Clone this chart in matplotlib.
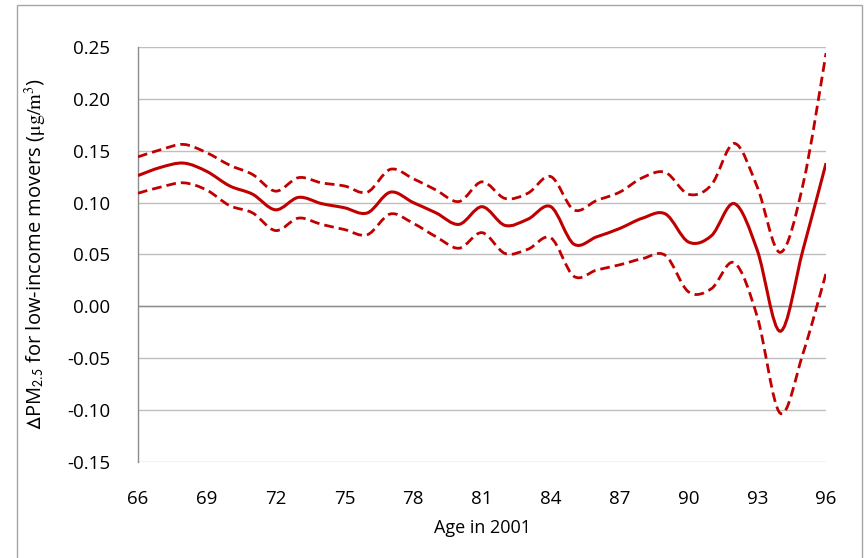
import numpy as np
import matplotlib.pyplot as plt
from matplotlib.path import Path
from matplotlib.patches import PathPatch, Rectangle

plt.rcParams['mathtext.fontset'] = 'stix'

# data, one value per age
ages = np.arange(66, 97)
estimate = [0.126, 0.134, 0.138, 0.130, 0.116, 0.108, 0.093, 0.105, 0.099, 0.095,
            0.090, 0.110, 0.100, 0.090, 0.079, 0.096, 0.078, 0.084, 0.096, 0.060,
            0.067, 0.075, 0.085, 0.089, 0.062, 0.068, 0.099, 0.054, -0.024, 0.055,
            0.138]
upper = [0.144, 0.151, 0.156, 0.148, 0.136, 0.127, 0.111, 0.124, 0.119, 0.116,
         0.110, 0.132, 0.123, 0.112, 0.101, 0.120, 0.104, 0.109, 0.125, 0.093,
         0.102, 0.110, 0.124, 0.129, 0.108, 0.117, 0.157, 0.115, 0.052, 0.118,
         0.244]
lower = [0.109, 0.115, 0.119, 0.112, 0.097, 0.090, 0.073, 0.085, 0.079, 0.074,
         0.069, 0.089, 0.080, 0.067, 0.056, 0.071, 0.051, 0.055, 0.066, 0.029,
         0.035, 0.040, 0.046, 0.049, 0.014, 0.017, 0.042, -0.010, -0.103, -0.045,
         0.032]
xticks = np.arange(66, 97, 3)
yticks = np.arange(-0.15, 0.2501, 0.05)

red = '#C00000'


def smooth_path(x, y):
    # Excel-like smoothed line: cubic bezier through every point
    x = np.asarray(x, float)
    y = np.asarray(y, float)
    pts = np.column_stack([x, y])
    verts = [pts[0]]
    codes = [Path.MOVETO]
    n = len(pts)
    for i in range(n - 1):
        p0 = pts[i - 1] if i > 0 else pts[i]
        p1 = pts[i]
        p2 = pts[i + 1]
        p3 = pts[i + 2] if i + 2 < n else pts[i + 1]
        c1 = p1 + (p2 - p0) / 6.0
        c2 = p2 - (p3 - p1) / 6.0
        verts += [c1, c2, p2]
        codes += [Path.CURVE4] * 3
    return Path(verts, codes)


fig = plt.figure(figsize=(8.65, 5.58), dpi=100)
ax = fig.add_axes([0.1595, 0.172, 0.7955, 0.744])

for v in yticks:
    ax.axhline(v, color='#BFBFBF', lw=1.0, zorder=1)
ax.axhline(0, color='#8C8C8C', lw=1.0, zorder=1)

ax.add_patch(PathPatch(smooth_path(ages, upper), fill=False, edgecolor=red,
                       lw=2.0, linestyle=(0, (3.5, 1.8)), zorder=3))
ax.add_patch(PathPatch(smooth_path(ages, lower), fill=False, edgecolor=red,
                       lw=2.0, linestyle=(0, (3.5, 1.8)), zorder=3))
ax.add_patch(PathPatch(smooth_path(ages, estimate), fill=False, edgecolor=red,
                       lw=2.2, zorder=4))

ax.set_xlim(66, 96)
ax.set_ylim(-0.15, 0.25)
ax.set_xticks(xticks)
ax.set_yticks(yticks)
ax.set_yticklabels([f'{v:.2f}' for v in yticks])
ax.tick_params(length=0, labelsize=13.5)
ax.tick_params(axis='y', pad=20)
ax.tick_params(axis='x', pad=20)
for lab in ax.get_xticklabels() + ax.get_yticklabels():
    lab.set_fontfamily('Open Sans')

for s in ['top', 'right', 'bottom']:
    ax.spines[s].set_visible(False)
ax.spines['left'].set_color('#8C8C8C')
ax.spines['left'].set_linewidth(1.0)

ax.set_xlabel('Age in 2001', fontsize=13, fontfamily='Open Sans', labelpad=8)
ax.set_ylabel(r'$\mathsf{\Delta}$PM$_{\mathsf{2.5}}$ for low-income movers ($\mathrm{\mu g/m^3}$)',
              fontsize=14.5, fontfamily='Open Sans', labelpad=13)

fig.patches.append(Rectangle((17 / 865, -0.05), (862 - 17) / 865, 1 - 5 / 558 + 0.05,
                             transform=fig.transFigure, fill=False,
                             edgecolor='#A6A6A6', lw=1.0))

fig.savefig('out.png', dpi=100)
